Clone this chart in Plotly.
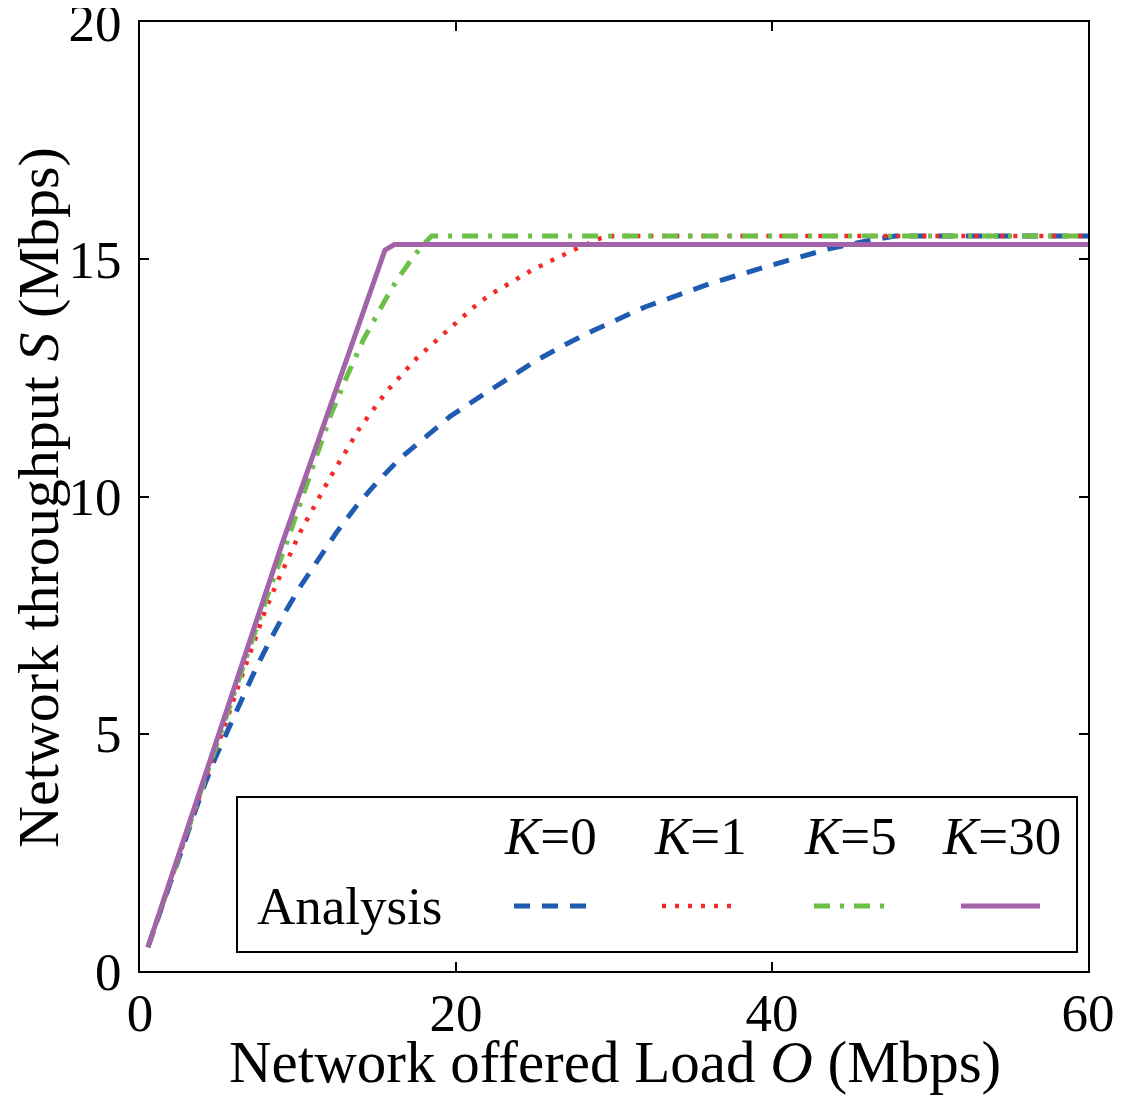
import plotly.graph_objects as go

# ---- data ----
o_k0 = [0.5, 2.0, 3.0, 4.0, 4.75, 5.6, 6.45, 7.3, 8.25, 9.2, 10.2, 11.3, 12.45, 13.7, 15.0, 16.45,
        18.35, 19.6, 21.5, 23.2, 25.0, 26.9, 28.7, 32.0, 36.2, 39.8, 43.6, 46.2, 47.8, 60.0]
s_k0 = [0.5, 1.95, 2.9, 3.85, 4.48, 5.1, 5.75, 6.35, 6.98, 7.57, 8.13, 8.7, 9.25, 9.8, 10.3, 10.8,
        11.35, 11.68, 12.1, 12.47, 12.85, 13.2, 13.5, 14.0, 14.5, 14.86, 15.22, 15.4, 15.49, 15.49]

o_k1 = [0.5, 3.0, 4.5, 5.27, 6.0, 6.65, 7.28, 7.9, 8.65, 9.8, 10.2, 12.0, 13.9, 15.6, 17.5, 19.6,
        21.5, 22.5, 24.8, 27.4, 29.2, 30.0, 60.0]
s_k1 = [0.5, 2.98, 4.4, 5.08, 5.82, 6.41, 6.98, 7.57, 8.17, 9.0, 9.29, 10.38, 11.44, 12.21, 12.91, 13.54,
        14.1, 14.32, 14.77, 15.19, 15.45, 15.49, 15.49]

o_k5 = [0.5, 5.0, 8.0, 9.2, 10.76, 12.03, 13.08, 14.13, 15.4, 16.25, 17.3, 17.9, 18.46, 60.0]
s_k5 = [0.5, 4.95, 7.85, 8.95, 10.49, 11.68, 12.52, 13.3, 14.07, 14.56, 15.05, 15.3, 15.49, 15.49]

o_k30 = [0.5, 9.07, 15.5, 16.1, 60.0]
s_k30 = [0.5, 9.08, 15.19, 15.31, 15.31]

series_names = ["K=0", "K=1", "K=5", "K=30"]
legend_labels = ["<i>K</i>=0", "<i>K</i>=1", "<i>K</i>=5", "<i>K</i>=30"]
row_label = "Analysis"
x_title = "Network offered Load <i>O</i> (Mbps)"
y_title = "Network throughput <i>S</i> (Mbps)"

x_ticks = [0, 20, 40, 60]
y_ticks = [0, 5, 10, 15, 20]

colors = ["#1F5BB0", "#F42A2A", "#6CBF47", "#A263A9"]
dashes = ["16px,12px", "4px,9px", "16px,10px,4px,10px", "solid"]
widths = [5, 4.5, 5, 5]

FONT = "Liberation Serif, Times New Roman, serif"

fig = go.Figure()
for xs, ys, name, c, d, w in zip([o_k0, o_k1, o_k5, o_k30], [s_k0, s_k1, s_k5, s_k30],
                                 series_names, colors, dashes, widths):
    fig.add_trace(go.Scatter(x=xs, y=ys, mode="lines", name=name,
                             line=dict(color=c, dash=d, width=w), showlegend=False))

# page body has an 8px margin; layout coordinates below are reference pixels
OFF = 8
L, R, T, B = 140 - OFF, 1088 - OFF, 22 - OFF, 971 - OFF
W, H = R - L, B - T
def px(x):
    return (x - OFF - L) / W
def py(y):
    return (B - (y - OFF)) / H

shapes = [dict(type="rect", xref="paper", yref="paper",
               x0=px(237), x1=px(1077), y0=py(952), y1=py(797),
               line=dict(color="black", width=2), fillcolor="white", layer="above")]
col_x = [550, 700, 850, 1001]
seg = [(514, 593), (662, 739), (814, 887), (961, 1040)]
annotations = []
for i in range(4):
    annotations.append(dict(xref="paper", yref="paper", x=px(col_x[i]), y=py(836),
                            text=legend_labels[i], showarrow=False,
                            font=dict(family=FONT, size=53, color="black"),
                            xanchor="center", yanchor="middle"))
    shapes.append(dict(type="line", xref="paper", yref="paper",
                       x0=px(seg[i][0]), x1=px(seg[i][1]), y0=py(906), y1=py(906),
                       line=dict(color=colors[i], dash=dashes[i], width=widths[i]),
                       layer="above"))
annotations.append(dict(xref="paper", yref="paper", x=px(350), y=py(906),
                        text=row_label, showarrow=False,
                        font=dict(family=FONT, size=53, color="black"),
                        xanchor="center", yanchor="middle"))
# axis titles
annotations.append(dict(xref="paper", yref="paper", x=px(615), y=py(1062),
                        text=x_title, showarrow=False,
                        font=dict(family=FONT, size=59, color="black"),
                        xanchor="center", yanchor="middle"))
annotations.append(dict(xref="paper", yref="paper", x=px(38), y=py(498),
                        text=y_title, showarrow=False, textangle=-90,
                        font=dict(family=FONT, size=58, color="black"),
                        xanchor="center", yanchor="middle"))

axis_common = dict(showline=True, linecolor="black", linewidth=2, mirror="ticks",
                   ticks="inside", ticklen=9, tickwidth=1.5, tickcolor="black",
                   showgrid=False, zeroline=False, automargin=False,
                   ticklabeloverflow="allow",
                   tickfont=dict(family=FONT, size=53, color="black"))

fig.update_layout(
    width=1128, height=1097,
    margin=dict(l=L, r=1128 - R, t=T, b=1097 - B),
    paper_bgcolor="white", plot_bgcolor="white",
    xaxis=dict(range=[0, 60], tickvals=x_ticks, ticktext=[str(v) for v in x_ticks],
               ticklabelstandoff=-6, **axis_common),
    yaxis=dict(range=[0, 20], tickvals=y_ticks, ticktext=[str(v) for v in y_ticks],
               ticklabelstandoff=6, **axis_common),
    shapes=shapes, annotations=annotations,
)

fig.write_html("out.html")
